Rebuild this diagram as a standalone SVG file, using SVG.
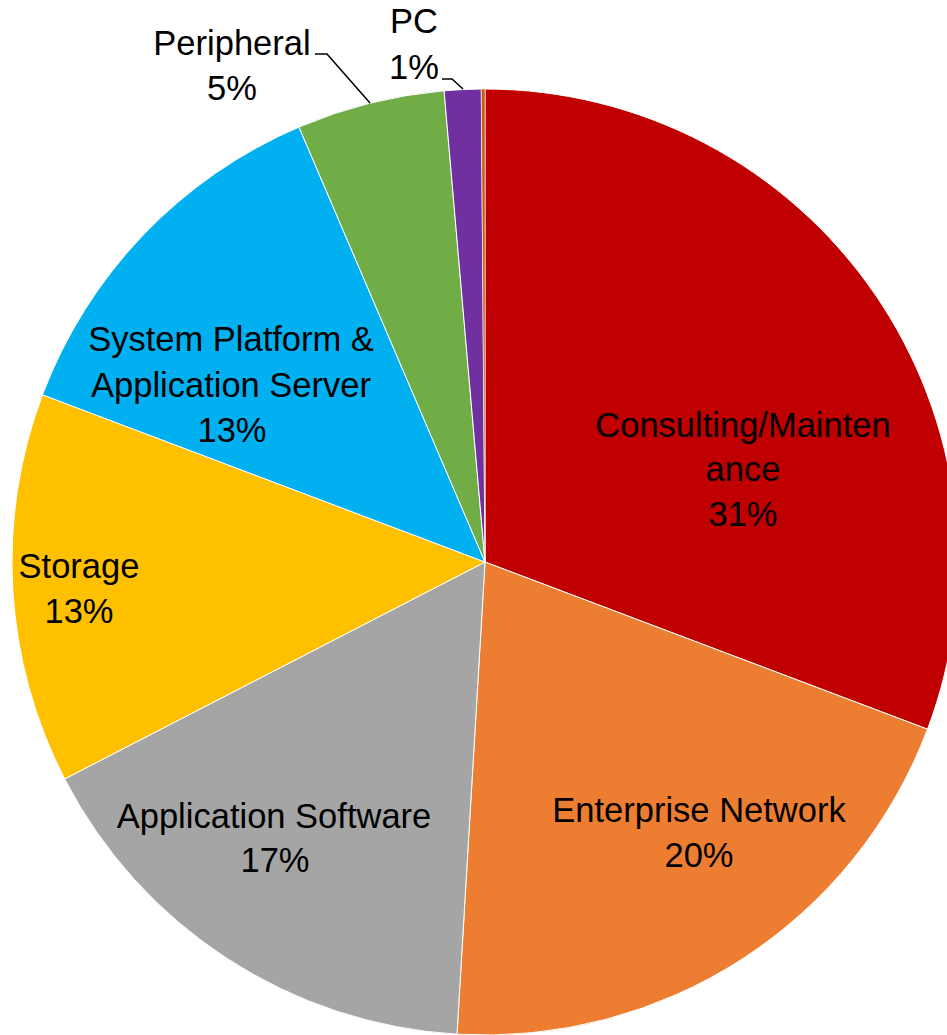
<svg xmlns="http://www.w3.org/2000/svg" width="947" height="1035" viewBox="0 0 947 1035">
<style>
.s{stroke:#fff;stroke-width:1;stroke-linejoin:round}
.t{font-family:"Liberation Sans",Arial,sans-serif;font-size:34.5px;fill:#000;text-anchor:middle}
.l{fill:none;stroke:#000;stroke-width:1.5}
</style>
<rect width="947" height="1035" fill="#fff"/>
<g id="slice-consulting"><path class="s" fill="#C00000" d="M485,562 L485,89 A473,473 0 0 1 927.5,729.2 Z"/></g>
<g id="slice-enterprise"><path class="s" fill="#ED7D31" d="M485,562 L927.5,729.2 A473,473 0 0 1 457,1034.2 Z"/></g>
<g id="slice-appsoftware"><path class="s" fill="#A5A5A5" d="M485,562 L457,1034.2 A473,473 0 0 1 64.7,778.9 Z"/></g>
<g id="slice-storage"><path class="s" fill="#FFC000" d="M485,562 L64.7,778.9 A473,473 0 0 1 42.5,394.8 Z"/></g>
<g id="slice-system"><path class="s" fill="#00B0F0" d="M485,562 L42.5,394.8 A473,473 0 0 1 299,127.1 Z"/></g>
<g id="slice-peripheral"><path class="s" fill="#70AD47" d="M485,562 L299,127.1 A473,473 0 0 1 444.1,90.8 Z"/></g>
<g id="slice-pc"><path class="s" fill="#7030A0" d="M485,562 L444.1,90.8 A473,473 0 0 1 481.3,89 Z"/></g>
<g id="slice-other"><path fill="#C55A11" stroke="#fff" stroke-width="0.5" d="M485,562 L481.3,89 A473,473 0 0 1 485,89 Z"/></g>
<g id="connectors">
<polyline class="l" points="442,79 452,79 463,89"/>
<polyline class="l" points="315,54 327,54 370,103"/>
</g>
<g id="label-consulting"><text class="t" x="743" y="437">Consulting/Mainten</text><text class="t" x="743" y="481">ance</text><text class="t" x="743" y="526">31%</text></g>
<g id="label-enterprise"><text class="t" x="699" y="822">Enterprise Network</text><text class="t" x="699" y="867">20%</text></g>
<g id="label-appsoftware"><text class="t" x="274" y="828">Application Software</text><text class="t" x="275" y="872">17%</text></g>
<g id="label-storage"><text class="t" x="79" y="578">Storage</text><text class="t" x="79" y="623">13%</text></g>
<g id="label-system"><text class="t" x="231" y="351">System Platform &amp;</text><text class="t" x="231" y="397">Application Server</text><text class="t" x="232" y="442">13%</text></g>
<g id="label-peripheral"><text class="t" x="232" y="55">Peripheral</text><text class="t" x="232" y="100">5%</text></g>
<g id="label-pc"><text class="t" x="414" y="33">PC</text><text class="t" x="414" y="79">1%</text></g>
</svg>
